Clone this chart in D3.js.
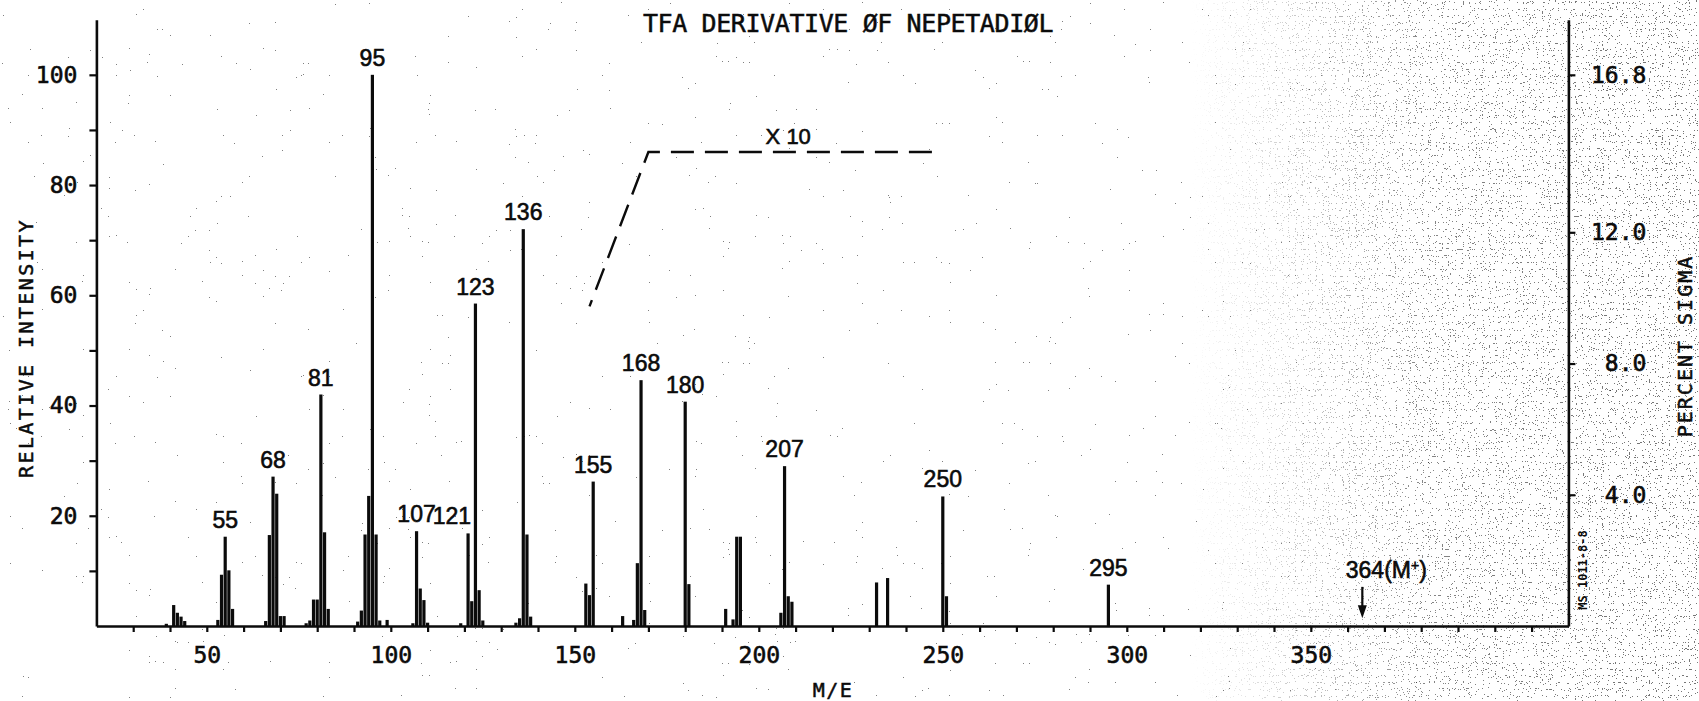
<!DOCTYPE html>
<html>
<head>
<meta charset="utf-8">
<script src="https://cdn.jsdelivr.net/npm/d3@7"></script>
<style>
  html, body { margin: 0; padding: 0; background: #fff; }
  svg { display: block; }
</style>
</head>
<body>
<svg id="chart" width="1699" height="701"></svg>
<script>
// ---- Mass spectrum of the TFA derivative of nepetadiol ----

// m/z of each recorded ion
const massToCharge = [
  39, 41, 42, 43, 44, 53, 54, 55, 56, 57,
  66, 67, 68, 69, 70, 71, 77, 78, 79, 80,
  81, 82, 83, 91, 92, 93, 94, 95, 96, 97,
  99, 106, 107, 108, 109, 110, 119, 121, 122, 123,
  124, 125, 134, 135, 136, 137, 138, 153, 154, 155,
  163, 166, 167, 168, 169, 180, 181, 191, 193, 194,
  195, 206, 207, 208, 209, 232, 235, 250, 251, 295
];

// relative intensity of each ion (base peak m/z 95 = 100)
const relativeIntensity = [
  0.4, 3.8, 2.4, 1.7, 0.9, 1.1, 9.3, 16.2, 10.1, 3.1,
  0.9, 16.5, 27.1, 24.0, 1.8, 1.8, 0.5, 1.0, 4.8, 4.8,
  42.0, 17.0, 3.1, 0.8, 2.8, 16.6, 23.6, 100, 16.6, 1.0,
  1.1, 0.5, 17.2, 6.8, 4.7, 0.6, 0.5, 16.8, 4.5, 58.5,
  6.5, 1.0, 0.6, 1.4, 72.0, 16.6, 1.7, 7.7, 5.6, 26.2,
  1.8, 1.1, 11.4, 44.6, 2.9, 40.7, 7.6, 3.1, 1.2, 16.2,
  16.2, 2.4, 29.0, 5.4, 4.4, 7.9, 8.7, 23.5, 5.4, 7.5
];

// ions whose m/z is printed above the peak
const labelledPeaks = [55, 68, 81, 95, 107, 121, 123, 136, 155, 168, 180, 207, 250, 295];

// axis ticks
const massTicks = d3.range(30, 411, 10);
const massTickLabels = [50, 100, 150, 200, 250, 300, 350];
const intensityTicks = d3.range(10, 101, 10);
const intensityTickLabels = [20, 40, 60, 80, 100];
const sigmaTicks = [4.0, 8.0, 12.0, 16.8];
const sigmaAtBasePeak = 16.8;          // percent of total ion current carried by the base peak

// "X 10" magnification trace (m/z, intensity)
const magnifiedTraceMz = [154, 170, 249];
const magnifiedTraceLevel = [58, 86, 86];
const magnifiedFactor = "X 10";

// molecular ion marker
const molecularIonMz = 364;
const molecularIonTop = 7.1;
const molecularIonTip = 1.4;

// text
const titleText = "TFA DERIVATIVE \u00D8F NEPETADI\u00D8L";
const xTitle = "M/E";
const yTitle = "RELATIVE INTENSITY";
const y2Title = "PERCENT SIGMA";
const plotId = "MS 1011-8-8";

// ---- layout ----
const W = 1699, H = 701;
const plotLeft = 96.4, plotRight = 1568.4, plotBottom = 626, plotTop = 19.7;
const intensityMax = 110;
const ink = "#0b0b0b";
const plotterFont = "'DejaVu Sans Mono', monospace";
const labelFont = "'Liberation Sans', Arial, sans-serif";

const svg = d3.select("#chart");
svg.append("rect").attr("width", W).attr("height", H).attr("fill", "#fff");

// ---- paper grain (photocopy speckle, heavier toward the right edge) ----
const defs = svg.append("defs");
function grainFilter(id, seed, zeros, ones, alpha) {
  const f = defs.append("filter").attr("id", id)
    .attr("filterUnits", "userSpaceOnUse")
    .attr("x", 0).attr("y", 0).attr("width", W).attr("height", H);
  f.append("feTurbulence")
    .attr("type", "fractalNoise").attr("baseFrequency", 0.85)
    .attr("numOctaves", 1).attr("seed", seed).attr("result", "n");
  f.append("feColorMatrix").attr("in", "n").attr("type", "matrix")
    .attr("values", "0 0 0 0 0  0 0 0 0 0  0 0 0 0 0  1 0 0 0 0")
    .attr("result", "a");
  const ct = f.append("feComponentTransfer").attr("in", "a");
  const table = d3.range(zeros).map(() => 0).concat(d3.range(ones).map(() => alpha));
  ct.append("feFuncA").attr("type", "discrete").attr("tableValues", table.join(" "));
}
grainFilter("grainLight", 7, 31, 9, 0.5);
grainFilter("grainHeavy", 11, 27, 13, 0.6);

const fade = defs.append("linearGradient").attr("id", "grainFade")
  .attr("gradientUnits", "userSpaceOnUse")
  .attr("x1", 1190).attr("y1", 0).attr("x2", 1620).attr("y2", 0);
fade.append("stop").attr("offset", 0).attr("stop-color", "#fff").attr("stop-opacity", 0);
fade.append("stop").attr("offset", 0.55).attr("stop-color", "#fff").attr("stop-opacity", 0.8);
fade.append("stop").attr("offset", 1).attr("stop-color", "#fff").attr("stop-opacity", 0.9);
defs.append("mask").attr("id", "grainMask")
  .attr("maskUnits", "userSpaceOnUse")
  .attr("x", 0).attr("y", 0).attr("width", W).attr("height", H)
  .append("rect").attr("width", W).attr("height", H).attr("fill", "url(#grainFade)");

svg.append("rect").attr("width", W).attr("height", H)
  .attr("fill", "#000").attr("filter", "url(#grainLight)");
svg.append("g").attr("mask", "url(#grainMask)")
  .append("rect").attr("width", W).attr("height", H)
  .attr("fill", "#000").attr("filter", "url(#grainHeavy)");

const x = d3.scaleLinear().domain([20, 420]).range([plotLeft, plotRight]);
const y = d3.scaleLinear().domain([0, intensityMax]).range([plotBottom, plotTop]);
const ySigma = d3.scaleLinear()
  .domain([0, intensityMax * sigmaAtBasePeak / 100])
  .range([plotBottom, plotTop]);

const peaks = massToCharge.map((m, i) => ({ m, v: relativeIntensity[i] }));

// ---- peaks ----
const barWidth = 3.2;
svg.append("g").selectAll("rect")
  .data(peaks)
  .join("rect")
  .attr("x", d => x(d.m) - barWidth / 2)
  .attr("y", d => y(d.v))
  .attr("width", barWidth)
  .attr("height", d => y(0) - y(d.v))
  .attr("fill", ink);

// ---- axes ----
function styleAxis(g, fontSize) {
  g.select(".domain").attr("stroke", ink).attr("stroke-width", 2.6);
  g.selectAll(".tick line").attr("stroke", ink).attr("stroke-width", 2.2);
  g.selectAll(".tick text")
    .attr("fill", ink)
    .attr("stroke", ink).attr("stroke-width", 0.6)
    .style("font-family", plotterFont)
    .style("font-size", fontSize + "px");
  g.attr("font-family", null).attr("font-size", null);
}

const xAxis = d3.axisBottom(x)
  .tickValues(massTicks)
  .tickSize(6).tickSizeOuter(0).tickPadding(15)
  .tickFormat(d => massTickLabels.includes(d) ? d : "");
svg.append("g")
  .attr("transform", `translate(0,${plotBottom})`)
  .call(xAxis)
  .call(g => styleAxis(g, 23));

const yAxis = d3.axisLeft(y)
  .tickValues(intensityTicks)
  .tickSize(7).tickSizeOuter(0).tickPadding(12)
  .tickFormat(d => intensityTickLabels.includes(d) ? d : "");
svg.append("g")
  .attr("transform", `translate(${plotLeft},0)`)
  .call(yAxis)
  .call(g => styleAxis(g, 23));

const y2Axis = d3.axisRight(ySigma)
  .tickValues(sigmaTicks)
  .tickSize(7).tickSizeOuter(0)
  .tickFormat(d3.format(".1f"));
svg.append("g")
  .attr("transform", `translate(${plotRight},0)`)
  .call(y2Axis)
  .call(g => styleAxis(g, 23))
  .call(g => g.selectAll(".tick text").attr("text-anchor", "end").attr("x", 78));

// ---- peak labels ----
svg.append("g").selectAll("text")
  .data(labelledPeaks)
  .join("text")
  .attr("x", (m, i) => {
    const next = labelledPeaks[i + 1];
    return (next !== undefined && next - m < 4) ? x(m) + 3 : x(m);
  })
  .attr("text-anchor", (m, i) => {
    const next = labelledPeaks[i + 1];
    return (next !== undefined && next - m < 4) ? "end" : "middle";
  })
  .attr("y", m => y(peaks.find(p => p.m === m).v) - 9)
  .attr("fill", ink)
  .attr("stroke", ink).attr("stroke-width", 0.6)
  .style("font-family", labelFont)
  .style("font-size", "23px")
  .text(m => m);

// ---- X 10 magnification trace ----
const tracePts = magnifiedTraceMz.map((m, i) => [x(m), y(magnifiedTraceLevel[i])]);
const riseLength = Math.hypot(tracePts[1][0] - tracePts[0][0], tracePts[1][1] - tracePts[0][1]);
const dash = 23, gap = 11;
svg.append("path")
  .attr("d", d3.line()(tracePts))
  .attr("fill", "none")
  .attr("stroke", ink)
  .attr("stroke-width", 2.4)
  .attr("stroke-dasharray", `${dash} ${gap}`)
  .attr("stroke-dashoffset", (((dash / 2 - riseLength) % (dash + gap)) + (dash + gap)) % (dash + gap));

svg.append("text")
  .attr("x", x(208))
  .attr("y", y(magnifiedTraceLevel[2]) - 8)
  .attr("text-anchor", "middle")
  .attr("fill", ink)
  .attr("stroke", ink).attr("stroke-width", 0.6)
  .style("font-family", labelFont)
  .style("font-size", "22px")
  .text(magnifiedFactor);

// ---- molecular ion marker ----
const mx = x(molecularIonMz);
const headLen = 13, headHalf = 4.5;
svg.append("line")
  .attr("x1", mx).attr("x2", mx)
  .attr("y1", y(molecularIonTop)).attr("y2", y(molecularIonTip) - headLen + 2)
  .attr("stroke", ink).attr("stroke-width", 2.2);
svg.append("path")
  .attr("d", `M${mx - headHalf},${y(molecularIonTip) - headLen} L${mx + headHalf},${y(molecularIonTip) - headLen} L${mx},${y(molecularIonTip)} Z`)
  .attr("fill", ink);
const mLabel = svg.append("text")
  .attr("x", mx + 24)
  .attr("y", y(8.7))
  .attr("text-anchor", "middle")
  .attr("fill", ink)
  .attr("stroke", ink).attr("stroke-width", 0.6)
  .style("font-family", labelFont)
  .style("font-size", "23px");
mLabel.append("tspan").text(molecularIonMz + "(M");
mLabel.append("tspan").attr("dy", -8).style("font-size", "14px").text("+");
mLabel.append("tspan").attr("dy", 8).text(")");

// ---- titles ----
function plotterText(sel, size, spacing) {
  return sel.attr("fill", ink)
    .attr("stroke", ink).attr("stroke-width", 0.5)
    .style("font-family", plotterFont)
    .style("font-size", size + "px")
    .style("letter-spacing", spacing + "px");
}

svg.append("text")
  .attr("x", 848).attr("y", 31.5)
  .attr("text-anchor", "middle")
  .call(plotterText, 25, -0.4)
  .text(titleText);

svg.append("text")
  .attr("x", 833).attr("y", 697)
  .attr("text-anchor", "middle")
  .call(plotterText, 20, 1.5)
  .text(xTitle);

svg.append("text")
  .attr("transform", "translate(33,348) rotate(-90)")
  .attr("text-anchor", "middle")
  .call(plotterText, 20, 2.4)
  .text(yTitle);

svg.append("text")
  .attr("transform", "translate(1692,346) rotate(-90)")
  .attr("text-anchor", "middle")
  .call(plotterText, 20, 2.0)
  .text(y2Title);

svg.append("text")
  .attr("transform", "translate(1587,570) rotate(-90)")
  .attr("text-anchor", "middle")
  .attr("fill", ink)
  .style("font-family", plotterFont)
  .style("font-weight", "bold")
  .style("font-size", "12px")
  .text(plotId);
</script>
</body>
</html>
